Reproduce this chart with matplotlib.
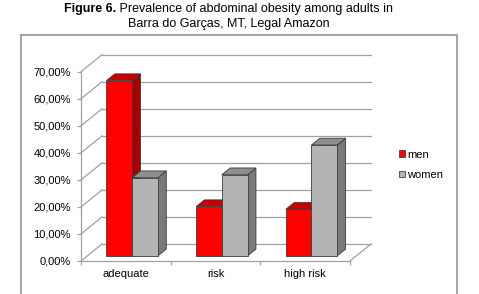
import matplotlib
matplotlib.use("Agg")
import matplotlib.pyplot as plt
from matplotlib.patches import Polygon, Rectangle, Patch
from matplotlib.ticker import FixedLocator, FuncFormatter

plt.rcParams['font.family'] = ['Liberation Sans', 'DejaVu Sans']

categories = ["adequate", "risk", "high risk"]
series_names = ["men", "women"]
men = [64.8, 18.2, 17.2]
women = [28.9, 30.0, 41.0]
y_ticks = [0, 10, 20, 30, 40, 50, 60, 70]

W, H = 479, 294
fig = plt.figure(figsize=(W / 100, H / 100), dpi=100)

# plot area (front axis)
x0px, x1px = 81, 350
y0px, y1px = 261, 71.7
ax = fig.add_axes([x0px / W, 1 - y0px / H, (x1px - x0px) / W, (y0px - y1px) / H])
ax.set_xlim(0, 3)
ax.set_ylim(0, 70)
for s in ax.spines.values():
    s.set_visible(False)
ax.patch.set_visible(False)

# depth of the wall in data units
DX = 21 / ((x1px - x0px) / 3)
DY = 17 / ((y0px - y1px) / 70)

def P(x, y, depth):
    return (x + depth * DX, y + depth * DY)

grid_c = "#a0a0a0"
# back wall gridlines + side wall diagonals
for v in y_ticks:
    ax.plot(*zip(P(0, v, 1), P(3, v, 1)), color=grid_c, lw=0.9, zorder=1, clip_on=False)
    ax.plot(*zip(P(0, v, 0), P(0, v, 1)), color=grid_c, lw=0.9, zorder=1, clip_on=False)
# floor
ax.plot(*zip(P(0, 0, 0), P(3, 0, 0)), color=grid_c, lw=0.9, zorder=1, clip_on=False)
ax.plot(*zip(P(3, 0, 0), P(3, 0, 1)), color=grid_c, lw=0.9, zorder=1, clip_on=False)
# front vertical axis
ax.plot([0, 0], [0, 70], color=grid_c, lw=0.9, zorder=1, clip_on=False)

# ticks
ax.yaxis.set_major_locator(FixedLocator(y_ticks))
ax.yaxis.set_major_formatter(FuncFormatter(lambda v, p: f"{v:.2f}%".replace('.', ',')))
ax.tick_params(axis='y', direction='out', length=2.8, width=0.9, color=grid_c,
               labelsize=8, pad=4.5, labelcolor='#000000')
ax.xaxis.set_major_locator(FixedLocator([0, 1, 2, 3]))
ax.xaxis.set_major_formatter(FuncFormatter(lambda v, p: ""))
ax.xaxis.set_minor_locator(FixedLocator([0.5, 1.5, 2.5]))
ax.xaxis.set_minor_formatter(FuncFormatter(lambda v, p: categories[int(v)]))
ax.tick_params(axis='x', which='major', direction='out', length=3, width=0.9, color=grid_c)
ax.tick_params(axis='x', which='minor', length=0, labelsize=8, pad=5.5)

# bars
f = 0.3       # depth position of bar front
d = 0.4       # bar depth
w = 0.287     # bar width
styles = [
    dict(front="#ff0000", side="#a80000", top="#c40000"),
    dict(front="#b4b4b4", side="#7a7a7a", top="#8e8e8e"),
]
edge = "#3a3a3a"
z = 3
for i in range(len(categories)):
    for k, vals in enumerate([men, women]):
        v = vals[i]
        xl = i + 0.5 - w + k * w
        xr = xl + w
        st = styles[k]
        side = Polygon([P(xr, 0, f), P(xr, 0, f + d), P(xr, v, f + d), P(xr, v, f)],
                       closed=True, facecolor=st["side"], edgecolor=edge, lw=0.6,
                       zorder=z, clip_on=False)
        top = Polygon([P(xl, v, f), P(xr, v, f), P(xr, v, f + d), P(xl, v, f + d)],
                      closed=True, facecolor=st["top"], edgecolor=edge, lw=0.6,
                      zorder=z, clip_on=False)
        ax.add_patch(side)
        ax.add_patch(top)
        ax.bar(xl + f * DX, v, width=w, bottom=f * DY, align='edge',
               color=st["front"], edgecolor=edge, lw=0.6, zorder=z + 0.5, clip_on=False)
        z += 1

# legend
handles = [Patch(facecolor=styles[0]["front"], edgecolor="#404040", lw=0.6),
           Patch(facecolor=styles[1]["front"], edgecolor="#404040", lw=0.6)]
fig.legend(handles, series_names, loc='upper left', bbox_to_anchor=(399 / W, 1 - 149.5 / H),
           frameon=False, fontsize=8, handlelength=0.5, handleheight=0.5,
           handletextpad=0.25, labelspacing=0.95, borderpad=0, borderaxespad=0)

# chart frame
fig.add_artist(Rectangle((20.5 / W, -0.1), (456.7 - 20.5) / W, 1.1 - 35 / H,
                         transform=fig.transFigure, fill=False, edgecolor="#a6a6a6",
                         lw=1.5, clip_on=False))

# title
t1a = fig.text(0, 1 - 12 / H, "Figure 6.", fontsize=9, fontweight='bold', va='baseline')
t1b = fig.text(0, 1 - 12 / H, " Prevalence of abdominal obesity among adults in",
               fontsize=9, va='baseline')
fig.text(228.5 / W, 1 - 27 / H, "Barra do Garças, MT, Legal Amazon", fontsize=9,
         va='baseline', ha='center')
fig.canvas.draw()
r = fig.canvas.get_renderer()
wa = t1a.get_window_extent(r).width
wb = t1b.get_window_extent(r).width
start = 228.3 - (wa + wb) / 2
t1a.set_x(start / W)
t1b.set_x((start + wa) / W)

fig.savefig("out.png", dpi=100)
